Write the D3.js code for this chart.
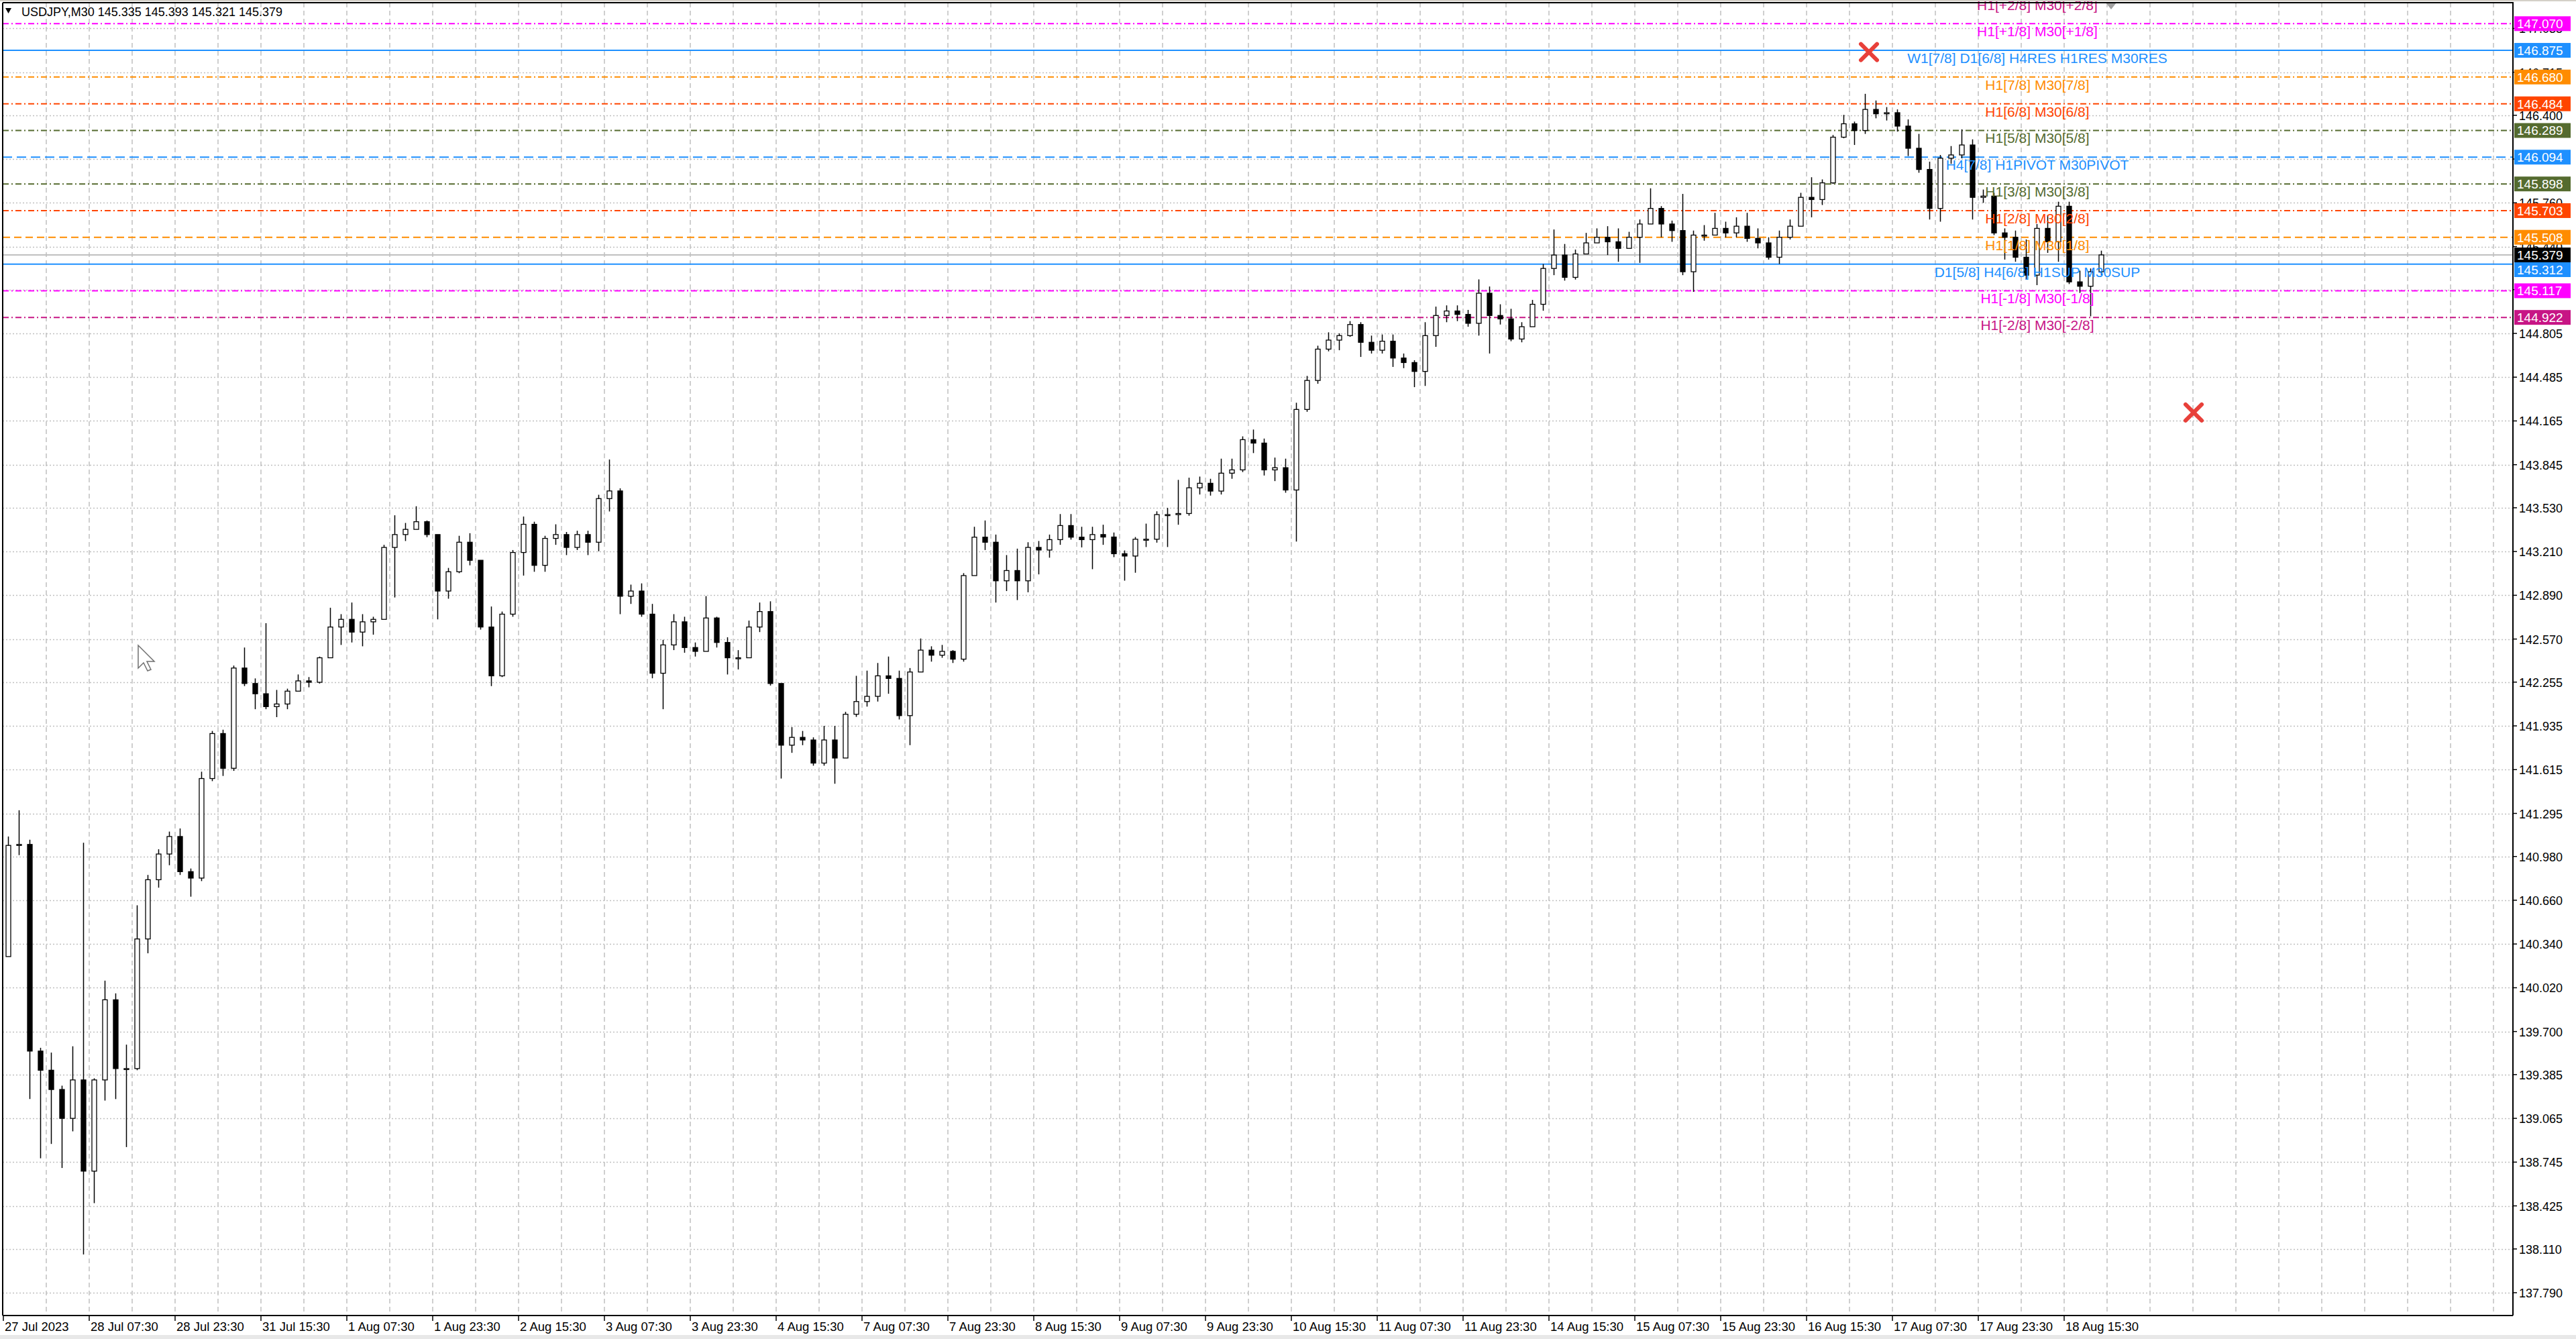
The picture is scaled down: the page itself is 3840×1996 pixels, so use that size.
<!DOCTYPE html>
<html>
<head>
<meta charset="utf-8">
<script src="https://cdn.jsdelivr.net/npm/d3@7/dist/d3.min.js"></script>
<style>
  body { margin: 0; background: #fff; }
  svg text { font-family: "Liberation Sans", Arial, sans-serif; }
</style>
</head>
<body>
<svg id="chart" width="3840" height="1996"></svg>
<script>
var symbolTitle = "USDJPY,M30  145.335 145.393 145.321 145.379";
var firstOpen = 140.248;

var hi = [141.126,141.318,141.103,139.581,139.546,139.304,139.592,141.080,139.358,140.072,
  139.979,139.604,140.623,140.845,141.033,141.162,141.185,140.892,141.600,141.898,
  141.907,142.376,142.508,142.282,142.686,142.198,142.207,142.311,142.292,142.442,
  142.799,142.752,142.837,142.752,142.733,143.259,143.475,143.419,143.541,143.437,
  143.268,143.090,143.325,143.344,143.015,142.808,142.771,143.221,143.466,143.428,
  143.325,143.409,143.353,143.362,143.362,143.625,143.883,143.672,142.968,142.977,
  142.827,142.564,142.752,142.733,142.545,142.884,142.733,142.583,142.489,142.705,
  142.837,142.846,142.245,141.926,141.898,141.851,141.935,141.935,142.038,142.301,
  142.339,142.395,142.442,142.339,142.358,142.574,142.517,142.527,142.489,143.052,
  143.391,143.437,143.334,143.184,143.231,143.278,143.287,143.334,143.484,143.484,
  143.391,143.391,143.406,143.349,143.218,143.316,143.414,143.504,143.529,143.734,
  143.750,143.758,143.742,143.889,143.889,144.052,144.102,144.036,143.897,143.889,
  144.298,144.494,144.715,144.813,144.805,144.895,144.887,144.789,144.797,144.797,
  144.658,144.609,144.887,145.001,145.010,145.010,144.977,145.200,145.148,145.018,
  144.985,144.887,145.050,145.312,145.565,145.459,145.418,145.540,145.573,145.589,
  145.573,145.548,145.638,145.866,145.736,145.630,145.825,145.557,145.597,145.687,
  145.622,145.654,145.687,145.573,145.508,145.557,145.638,145.833,145.947,145.931,
  146.256,146.403,146.354,146.557,146.508,146.460,146.443,146.370,146.264,146.061,
  146.110,146.175,146.297,146.224,145.857,145.833,145.573,145.557,145.492,145.605,
  145.670,145.768,145.768,145.264,145.280,145.410];

var lo = [140.248,140.990,139.206,138.773,138.878,138.702,138.970,138.070,138.445,139.195,
  139.206,138.855,139.417,140.272,140.752,140.916,140.845,140.686,140.800,141.531,
  141.569,141.606,142.226,142.057,142.057,141.999,142.057,142.189,142.217,142.245,
  142.433,142.527,142.545,142.517,142.602,142.714,142.874,143.287,143.372,143.315,
  142.714,142.865,143.052,143.109,142.639,142.226,142.292,142.733,143.034,143.062,
  143.062,143.259,143.184,143.221,143.184,143.212,143.503,142.752,142.827,142.733,
  142.283,142.057,142.489,142.470,142.442,142.564,142.508,142.311,142.348,142.452,
  142.621,142.230,141.550,141.738,141.794,141.644,141.644,141.512,141.738,142.001,
  142.076,142.113,142.170,141.982,141.794,142.339,142.405,142.433,142.395,142.405,
  143.034,143.221,142.837,142.921,142.855,142.912,143.043,143.165,143.259,143.297,
  143.240,143.081,143.259,143.169,142.997,143.055,143.243,143.275,143.243,143.406,
  143.472,143.627,143.619,143.627,143.742,143.791,143.930,143.766,143.725,143.640,
  143.283,144.232,144.437,144.674,144.682,144.780,144.633,144.658,144.658,144.560,
  144.551,144.412,144.421,144.707,144.887,144.895,144.854,144.789,144.658,144.870,
  144.748,144.740,144.862,144.971,145.231,145.191,145.199,145.386,145.475,145.378,
  145.329,145.443,145.321,145.622,145.508,145.475,145.231,145.109,145.483,145.524,
  145.508,145.508,145.475,145.427,145.345,145.313,145.492,145.589,145.654,145.744,
  145.898,146.232,146.183,146.264,146.378,146.362,146.281,146.102,145.980,145.638,
  145.622,146.045,146.086,145.638,145.760,145.524,145.345,145.329,145.199,145.158,
  145.394,145.329,145.166,145.101,144.930,145.231];

var cl = [141.061,141.068,139.557,139.417,139.276,139.065,139.346,138.679,139.346,139.932,
  139.429,139.429,140.377,140.810,140.998,141.126,140.869,140.822,141.550,141.879,
  141.625,142.358,142.245,142.170,142.076,142.095,142.189,142.264,142.254,142.433,
  142.658,142.714,142.621,142.696,142.714,143.240,143.334,143.372,143.428,143.334,
  142.921,143.062,143.278,143.146,142.658,142.301,142.752,143.203,143.409,143.109,
  143.306,143.334,143.240,143.334,143.278,143.597,143.653,142.883,142.921,142.752,
  142.320,142.527,142.696,142.508,142.480,142.724,142.545,142.433,142.433,142.658,
  142.771,142.245,141.794,141.851,141.832,141.663,141.832,141.700,142.020,142.113,
  142.151,142.301,142.282,142.010,142.329,142.489,142.452,142.480,142.423,143.034,
  143.315,143.278,142.996,143.071,142.996,143.240,143.221,143.297,143.400,143.315,
  143.297,143.334,143.316,143.194,143.177,143.300,143.300,143.480,143.480,143.488,
  143.676,143.709,143.652,143.783,143.807,144.028,144.003,143.807,143.823,143.660,
  144.249,144.461,144.690,144.756,144.789,144.870,144.740,144.682,144.748,144.625,
  144.592,144.527,144.789,144.936,144.969,144.944,144.879,145.099,144.936,144.911,
  144.764,144.854,145.018,145.280,145.378,145.215,145.386,145.467,145.508,145.475,
  145.427,145.508,145.605,145.719,145.605,145.557,145.256,145.524,145.524,145.573,
  145.540,145.589,145.500,145.467,145.362,145.508,145.589,145.800,145.784,145.906,
  146.240,146.338,146.289,146.443,146.411,146.419,146.321,146.159,146.004,145.719,
  146.086,146.110,146.183,145.800,145.809,145.540,145.508,145.362,145.231,145.573,
  145.475,145.735,145.182,145.150,145.256,145.379];

var barsPerCandle = 4;

// price scale labels
var priceTicks = ["137.790","138.110","138.425","138.745","139.065","139.385","139.700",
  "140.020","140.340","140.660","140.980","141.295","141.615","141.935","142.255",
  "142.570","142.890","143.210","143.530","143.845","144.165","144.485","144.805",
  "145.125","145.440","145.760","146.080","146.400","146.715","147.035"];

// time scale labels, one every 32 bars
var timeLabels = ["27 Jul 2023","28 Jul 07:30","28 Jul 23:30","31 Jul 15:30","1 Aug 07:30",
  "1 Aug 23:30","2 Aug 15:30","3 Aug 07:30","3 Aug 23:30","4 Aug 15:30","7 Aug 07:30",
  "7 Aug 23:30","8 Aug 15:30","9 Aug 07:30","9 Aug 23:30","10 Aug 15:30","11 Aug 07:30",
  "11 Aug 23:30","14 Aug 15:30","15 Aug 07:30","15 Aug 23:30","16 Aug 15:30",
  "17 Aug 07:30","17 Aug 23:30","18 Aug 15:30"];
var barsPerLabel = 32;

// Murrey levels
var levelPrices = [147.265,147.070,146.875,146.680,146.484,146.289,146.094,145.898,
  145.703,145.508,145.312,145.117,144.922];
var levelNames = ["H1[+2/8] M30[+2/8]","H1[+1/8] M30[+1/8]","W1[7/8] D1[6/8] H4RES H1RES M30RES",
  "H1[7/8] M30[7/8]","H1[6/8] M30[6/8]","H1[5/8] M30[5/8]","H4[7/8] H1PIVOT M30PIVOT",
  "H1[3/8] M30[3/8]","H1[2/8] M30[2/8]","H1[1/8] M30[1/8]","D1[5/8] H4[6/8] H1SUP M30SUP",
  "H1[-1/8] M30[-1/8]","H1[-2/8] M30[-2/8]"];
var bidPrice = 145.379;

// red crosses (bar index, price)
var crossBars = [695, 816];
var crossPrices = [146.862, 144.227];

// styles, kept apart from the data
var levelColors = ["#c71585","#ff00ff","#1e90ff","#ff8c00","#ff4500","#556b2f","#1e90ff",
  "#556b2f","#ff4500","#ff8c00","#1e90ff","#ff00ff","#c71585"];
var levelDash = ["9,4,2,4","9,4,2,4",null,"9,4,2,4","9,4,2,4","9,4,2,4","14,7",
  "9,4,2,4","9,4,2,4","11,6",null,"9,4,2,4","9,4,2,4"];

// plot box (named so they don't clash with window.top)
var pL = 4, pT = 4, pR = 3746, pB = 1961;
var svg = d3.select("#chart");

var y = d3.scaleLinear().domain([137.6232, 147.2235]).range([pB, pT]);
var x = d3.scaleLinear().domain([0, 1]).range([6, 10]);   // bar index -> px
var lastBar = Math.floor(x.invert(pR));

svg.append("rect").attr("width", 3840).attr("height", 1996).attr("fill", "#fff");

svg.append("clipPath").attr("id", "plotclip")
  .append("rect").attr("x", pL).attr("y", pT)
  .attr("width", pR - pL).attr("height", pB - pT);

var plot = svg.append("g").attr("clip-path", "url(#plotclip)");

// grid
plot.append("g").selectAll("line")
  .data(priceTicks).enter().append("line")
  .attr("x1", pL).attr("x2", pR)
  .attr("y1", function(d) { return Math.round(y(+d)) + 0.5; })
  .attr("y2", function(d) { return Math.round(y(+d)) + 0.5; })
  .attr("stroke", "#c0c0c0").attr("stroke-width", 1.5).attr("stroke-dasharray", "2,3");

plot.append("g").selectAll("line")
  .data(d3.range(16, lastBar, 16)).enter().append("line")
  .attr("x1", function(d) { return x(d) - 1; }).attr("x2", function(d) { return x(d) - 1; })
  .attr("y1", pT).attr("y2", pB)
  .attr("stroke", "#c0c0c0").attr("stroke-width", 1.5).attr("stroke-dasharray", "7,5");

// level lines
var levels = levelPrices.map(function(p, i) {
  return { p: p, name: levelNames[i], color: levelColors[i], dash: levelDash[i] };
});

plot.append("line")
  .attr("x1", pL).attr("x2", pR)
  .attr("y1", y(bidPrice)).attr("y2", y(bidPrice))
  .attr("stroke", "#c0c0c0").attr("stroke-width", 2);

plot.append("g").selectAll("line")
  .data(levels).enter().append("line")
  .attr("x1", pL).attr("x2", pR)
  .attr("y1", function(d) { return y(d.p); }).attr("y2", function(d) { return y(d.p); })
  .attr("stroke", function(d) { return d.color; })
  .attr("stroke-width", 2)
  .attr("stroke-dasharray", function(d) { return d.dash; });

// level labels sit under the candles
svg.append("g").selectAll("text")
  .data(levels).enter().append("text")
  .attr("x", 3037)
  .attr("y", function(d) { return y(d.p) + 19; })
  .attr("text-anchor", "middle")
  .attr("font-size", 21)
  .attr("fill", function(d) { return d.color; })
  .text(function(d) { return d.name; });

// candles
var candles = cl.map(function(c, i) {
  return { i: i, o: i == 0 ? firstOpen : cl[i - 1], h: hi[i], l: lo[i], c: c };
});
function cx(d) { return Math.round(x(d.i * barsPerCandle + 1.5)) + 0.5; }

var cg = plot.append("g");
cg.selectAll("line").data(candles).enter().append("line")
  .attr("x1", cx).attr("x2", cx)
  .attr("y1", function(d) { return y(Math.max(d.h, d.o, d.c)); })
  .attr("y2", function(d) { return y(Math.min(d.l, d.o, d.c)); })
  .attr("stroke", "#000").attr("stroke-width", 1.5);

cg.selectAll("rect").data(candles).enter().append("rect")
  .attr("x", function(d) { return cx(d) - 3.5; })
  .attr("width", 7)
  .attr("y", function(d) { return y(Math.max(d.o, d.c)); })
  .attr("height", function(d) { return Math.max(1.5, y(Math.min(d.o, d.c)) - y(Math.max(d.o, d.c))); })
  .attr("fill", function(d) { return d.c >= d.o ? "#fff" : "#000"; })
  .attr("stroke", "#000").attr("stroke-width", 1.3);

// red crosses
var crosses = crossBars.map(function(b, i) { return { b: b, p: crossPrices[i] }; });
var xg = plot.append("g").attr("stroke", "#e8403a").attr("stroke-width", 6)
  .attr("stroke-linecap", "round");
crosses.forEach(function(d) {
  var px = x(d.b), py = y(d.p);
  xg.append("line").attr("x1", px - 12).attr("y1", py - 12).attr("x2", px + 12).attr("y2", py + 12);
  xg.append("line").attr("x1", px - 12).attr("y1", py + 12).attr("x2", px + 12).attr("y2", py - 12);
});

// chart shift marker
svg.append("path")
  .attr("d", "M3139,4 L3155,4 L3147,14 Z")
  .attr("fill", "#a0a0a0");

// header
svg.append("path").attr("d", "M8,12 L17,12 L12.5,20 Z").attr("fill", "#000");
svg.append("text").attr("x", 32).attr("y", 24).attr("font-size", 18)
  .attr("fill", "#000").text(symbolTitle);

// mouse pointer
svg.append("path")
  .attr("d", "M206,962 L206,996 L214,988 L220,1000 L225,998 L219,986 L230,986 Z")
  .attr("fill", "#fff").attr("stroke", "#707070").attr("stroke-width", 1.5);

// frame and axes
svg.append("rect").attr("x", 0).attr("y", 0).attr("width", 3840).attr("height", 2).attr("fill", "#d4d0c8");
svg.append("rect").attr("x", 0).attr("y", 1990).attr("width", 3840).attr("height", 6).attr("fill", "#e8e8e8");
svg.append("line").attr("x1", pL).attr("x2", pR + 1).attr("y1", pT).attr("y2", pT)
  .attr("stroke", "#000").attr("stroke-width", 2);
svg.append("line").attr("x1", pL).attr("x2", pL).attr("y1", pT).attr("y2", pB)
  .attr("stroke", "#000").attr("stroke-width", 2);
svg.append("line").attr("x1", pR).attr("x2", pR).attr("y1", pT).attr("y2", pB)
  .attr("stroke", "#000").attr("stroke-width", 2);
svg.append("line").attr("x1", pL).attr("x2", pR).attr("y1", pB).attr("y2", pB)
  .attr("stroke", "#000").attr("stroke-width", 2);

// price scale
var pg = svg.append("g");
pg.selectAll("line").data(priceTicks).enter().append("line")
  .attr("x1", pR).attr("x2", pR + 6)
  .attr("y1", function(d) { return y(+d); }).attr("y2", function(d) { return y(+d); })
  .attr("stroke", "#000").attr("stroke-width", 1.5);
pg.selectAll("text").data(priceTicks).enter().append("text")
  .attr("x", pR + 9)
  .attr("y", function(d) { return y(+d) + 7; })
  .attr("font-size", 18).attr("fill", "#000")
  .text(function(d) { return d; });

// time scale
var tg = svg.append("g");
tg.selectAll("line").data(timeLabels).enter().append("line")
  .attr("x1", function(d, i) { return x(i * barsPerLabel) - 1; })
  .attr("x2", function(d, i) { return x(i * barsPerLabel) - 1; })
  .attr("y1", pB).attr("y2", pB + 8)
  .attr("stroke", "#000").attr("stroke-width", 1.5);
tg.selectAll("text").data(timeLabels).enter().append("text")
  .attr("x", function(d, i) { return x(i * barsPerLabel) + 1; })
  .attr("y", pB + 23)
  .attr("font-size", 18.5).attr("fill", "#000")
  .text(function(d) { return d; });

// price boxes: bid box first, a level box that would sit on it is pushed below
var boxH = 22;
var bidTop = y(bidPrice) - boxH / 2, bidBottom = bidTop + boxH;
var bg = svg.append("g");
function box(p, color, top) {
  var g = bg.append("g");
  g.append("rect").attr("x", pR + 2).attr("y", top)
    .attr("width", 84).attr("height", boxH).attr("fill", color);
  g.append("text").attr("x", pR + 6).attr("y", top + boxH / 2 + 7)
    .attr("font-size", 19).attr("fill", "#fff").text(d3.format(".3f")(p));
}
box(bidPrice, "#000", bidTop);
levels.filter(function(d) { return d.p < y.domain()[1]; }).forEach(function(d) {
  var t = y(d.p) - boxH / 2;
  if (t > bidTop && t < bidBottom) t = bidBottom;
  box(d.p, d.color, t);
});
</script>
</body>
</html>
